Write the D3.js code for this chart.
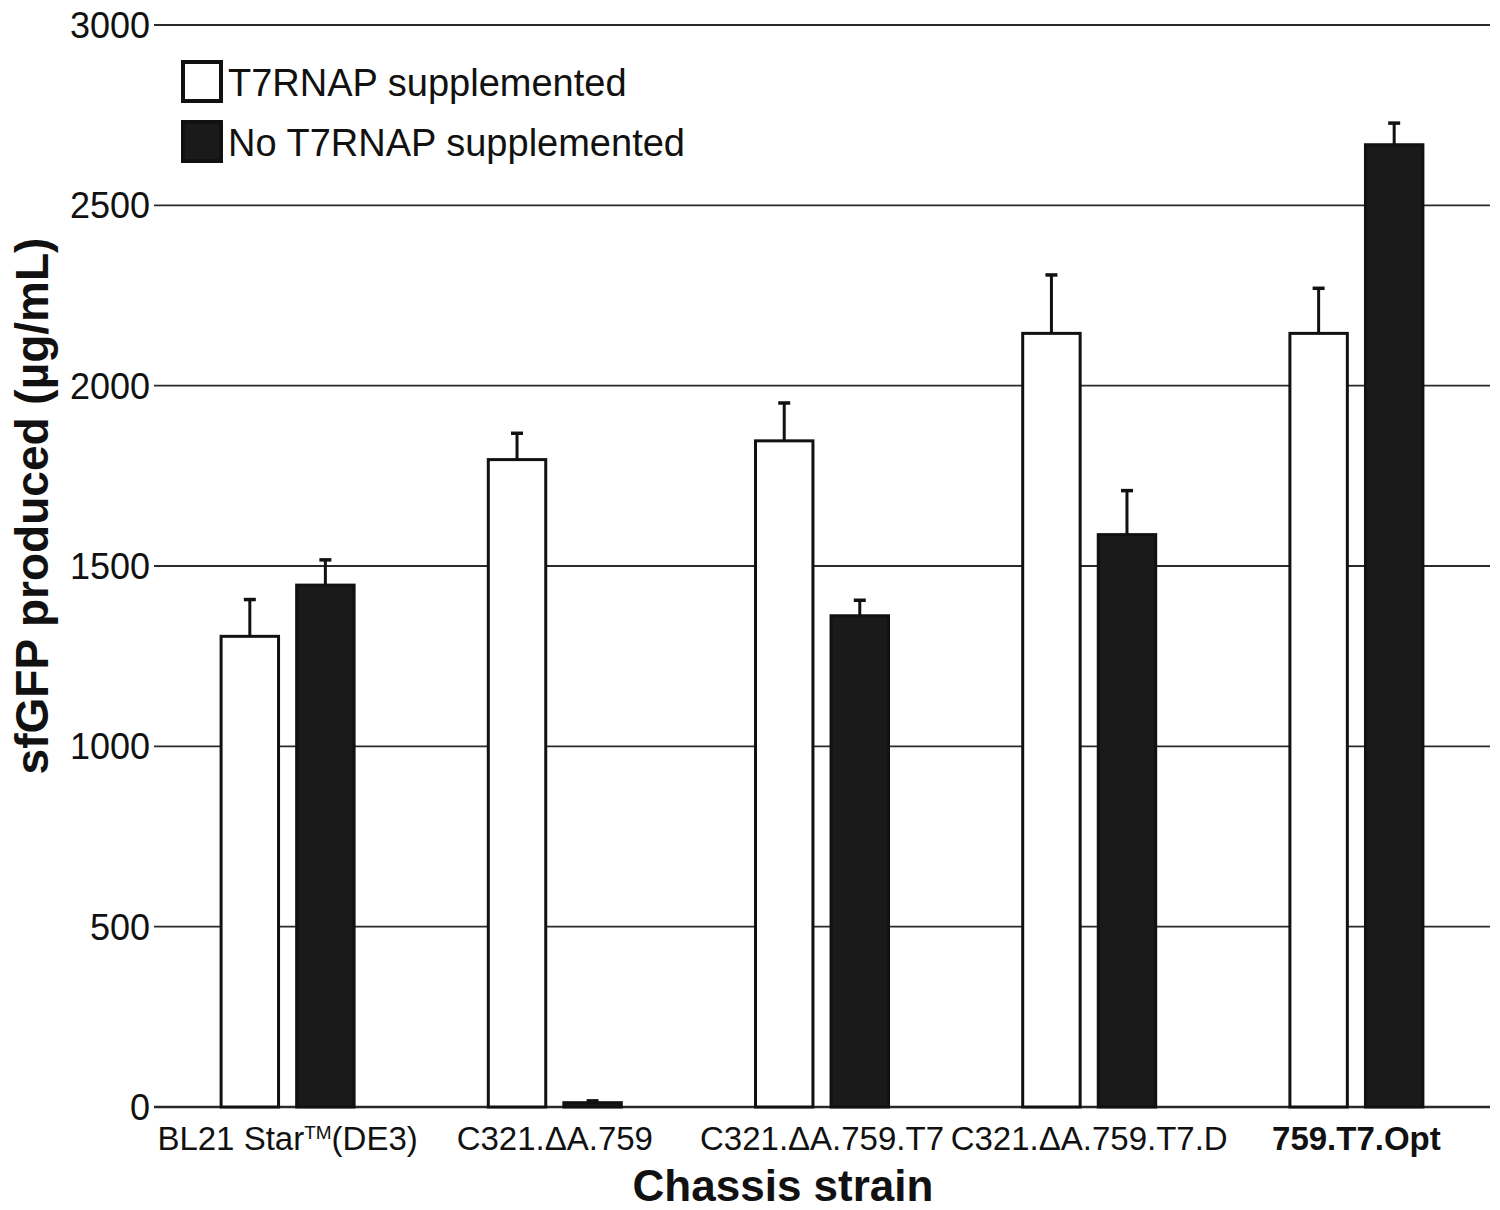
<!DOCTYPE html>
<html><head><meta charset="utf-8">
<script src="https://cdn.jsdelivr.net/npm/d3@7"></script>
<style>body{margin:0;background:#fff}</style>
</head><body>
<svg id="c" width="1500" height="1210"></svg>
<script>
const categories = ["BL21 Star\u2122(DE3)", "C321.\u0394A.759", "C321.\u0394A.759.T7", "C321.\u0394A.759.T7.D", "759.T7.Opt"];
const seriesNames = ["T7RNAP supplemented", "No T7RNAP supplemented"];
const supplemented = [1305, 1795, 1847, 2145, 2145];
const supplementedErr = [102, 73, 105, 162, 125];
const notSupplemented = [1447, 12, 1362, 1587, 2668];
const notSupplementedErr = [70, 5, 43, 122, 60];
const yTicks = [0, 500, 1000, 1500, 2000, 2500, 3000];

const svg = d3.select("#c");
const font = "'Liberation Sans', Arial, sans-serif";
const x0 = 154, x1 = 1490, yTop = 25, yBot = 1107;
const x = d3.scaleBand().domain(categories).range([x0, x1]);
const y = d3.scaleLinear().domain([0, 3000]).range([yBot, yTop]);
const sub = d3.scaleBand().domain(seriesNames).range([-68, 68]).paddingInner(0.2).paddingOuter(0);

// gridlines
svg.append("g").selectAll("line").data(yTicks).join("line")
  .attr("x1", x0).attr("x2", x1).attr("y1", d => y(d)).attr("y2", d => y(d))
  .attr("stroke", "#2a2a2a").attr("stroke-width", d => d === 0 ? 2.5 : 1.8);

svg.append("g").selectAll("text").data(yTicks).join("text")
  .attr("x", 150).attr("y", d => y(d)).attr("dy", "0.36em")
  .attr("text-anchor", "end").attr("font-family", font).attr("font-size", 36)
  .attr("fill", "#111").text(d => d);

const rows = [];
categories.forEach((c, i) => {
  rows.push({c, s: seriesNames[0], v: supplemented[i], e: supplementedErr[i]});
  rows.push({c, s: seriesNames[1], v: notSupplemented[i], e: notSupplementedErr[i]});
});
const cx = d => x(d.c) + x.bandwidth() / 2;
const bw = sub.bandwidth();

const g = svg.append("g");
// error bars
g.selectAll("line.err").data(rows).join("line").attr("class", "err")
  .attr("x1", d => cx(d) + sub(d.s) + bw / 2).attr("x2", d => cx(d) + sub(d.s) + bw / 2)
  .attr("y1", d => y(d.v)).attr("y2", d => y(d.v + d.e))
  .attr("stroke", "#111").attr("stroke-width", 3);
g.selectAll("line.cap").data(rows).join("line").attr("class", "cap")
  .attr("x1", d => cx(d) + sub(d.s) + bw / 2 - 6).attr("x2", d => cx(d) + sub(d.s) + bw / 2 + 6)
  .attr("y1", d => y(d.v + d.e)).attr("y2", d => y(d.v + d.e))
  .attr("stroke", "#111").attr("stroke-width", 3.5);
// bars
g.selectAll("rect").data(rows).join("rect")
  .attr("x", d => cx(d) + sub(d.s) + 1.5).attr("width", bw - 3)
  .attr("y", d => y(d.v)).attr("height", d => yBot - y(d.v))
  .attr("fill", d => d.s === seriesNames[0] ? "#fff" : "#1a1a1a")
  .attr("stroke", "#111").attr("stroke-width", 3);

// category labels
const lab = svg.append("g").selectAll("text").data(categories).join("text")
  .attr("x", d => x(d) + x.bandwidth() / 2).attr("y", 1150)
  .attr("text-anchor", "middle").attr("font-family", font).attr("font-size", 33)
  .attr("font-weight", (d, i) => i === categories.length - 1 ? "bold" : "normal")
  .attr("fill", "#111");
lab.each(function(d) {
  const t = d3.select(this);
  if (d.includes("\u2122")) {
    const [a, b] = d.split("\u2122");
    t.append("tspan").text(a);
    t.append("tspan").attr("font-size", 19).attr("dy", -11).text("TM");
    t.append("tspan").attr("dy", 11).text(b);
  } else t.text(d);
});

// axis titles
svg.append("text").attr("x", 783).attr("y", 1201).attr("text-anchor", "middle")
  .attr("font-family", font).attr("font-weight", "bold").attr("font-size", 44)
  .attr("fill", "#111").text("Chassis strain");
svg.append("text").attr("transform", "translate(48,506) rotate(-90)").attr("text-anchor", "middle")
  .attr("font-family", font).attr("font-weight", "bold").attr("font-size", 46)
  .attr("fill", "#111").text("sfGFP produced (\u00b5g/mL)");

// legend
const leg = svg.append("g").selectAll("g").data(seriesNames).join("g")
  .attr("transform", (d, i) => `translate(183,${62 + i * 60})`);
leg.append("rect").attr("width", 38).attr("height", 39)
  .attr("fill", (d, i) => i === 0 ? "#fff" : "#1a1a1a").attr("stroke", "#111").attr("stroke-width", 4);
leg.append("text").attr("x", 45).attr("y", 34).attr("font-family", font).attr("font-size", 38)
  .attr("fill", "#111").text(d => d);
</script>
</body></html>
